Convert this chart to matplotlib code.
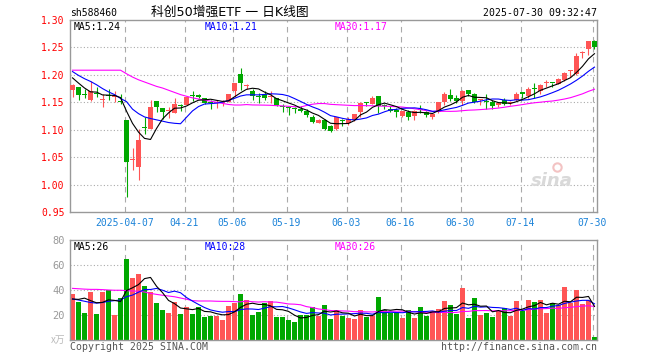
import numpy as np
import matplotlib
matplotlib.use('Agg')
import matplotlib.pyplot as plt

# ---------------- data ----------------
opens = [1.172, 1.178, 1.164, 1.154, 1.166, 1.155, 1.162, 1.159, 1.153, 1.118,
         1.044, 1.032, 1.105, 1.102, 1.152, 1.140, 1.135, 1.131, 1.144, 1.145,
         1.162, 1.163, 1.157, 1.150, 1.148, 1.149, 1.151, 1.171, 1.202, 1.180,
         1.171, 1.161, 1.166, 1.160, 1.157, 1.143, 1.140, 1.139, 1.138, 1.1335,
         1.124, 1.113, 1.118, 1.107, 1.102, 1.116, 1.113, 1.118, 1.132, 1.149,
         1.1475, 1.162, 1.145, 1.138, 1.1366, 1.1256, 1.132, 1.1256, 1.1366, 1.132,
         1.123, 1.132, 1.1506, 1.164, 1.158, 1.152, 1.173, 1.166, 1.1536, 1.1506,
         1.151, 1.145, 1.154, 1.148, 1.1536, 1.1695, 1.1616, 1.175, 1.1707, 1.185,
         1.186, 1.184, 1.191, 1.2065, 1.201, 1.2405, 1.2463, 1.261]
highs = [1.183, 1.178, 1.174, 1.188, 1.177, 1.165, 1.175, 1.171, 1.166, 1.118,
         1.066, 1.101, 1.124, 1.155, 1.152, 1.140, 1.142, 1.157, 1.146, 1.160,
         1.170, 1.166, 1.157, 1.154, 1.154, 1.155, 1.166, 1.186, 1.212, 1.184,
         1.175, 1.167, 1.170, 1.170, 1.157, 1.147, 1.141, 1.141, 1.143, 1.137,
         1.127, 1.119, 1.119, 1.108, 1.124, 1.1195, 1.123, 1.129, 1.150, 1.150,
         1.162, 1.162, 1.1475, 1.143, 1.1396, 1.134, 1.1366, 1.1366, 1.1457, 1.135,
         1.130, 1.150, 1.168, 1.175, 1.164, 1.172, 1.173, 1.167, 1.156, 1.166,
         1.155, 1.150, 1.158, 1.152, 1.168, 1.1695, 1.177, 1.186, 1.183, 1.190,
         1.186, 1.195, 1.206, 1.2085, 1.239, 1.243, 1.261, 1.264]
lows = [1.160, 1.155, 1.158, 1.152, 1.160, 1.141, 1.155, 1.150, 1.146, 0.978,
        1.026, 1.009, 1.093, 1.102, 1.132, 1.119, 1.122, 1.130, 1.134, 1.145,
        1.152, 1.157, 1.146, 1.138, 1.140, 1.143, 1.150, 1.160, 1.173, 1.174,
        1.154, 1.149, 1.154, 1.149, 1.143, 1.132, 1.126, 1.130, 1.132, 1.124,
        1.112, 1.112, 1.100, 1.096, 1.100, 1.106, 1.109, 1.115, 1.123, 1.144,
        1.146, 1.130, 1.137, 1.132, 1.123, 1.123, 1.118, 1.118, 1.130, 1.123,
        1.120, 1.130, 1.1445, 1.152, 1.149, 1.1457, 1.161, 1.149, 1.1445, 1.138,
        1.138, 1.141, 1.145, 1.145, 1.152, 1.157, 1.1585, 1.1585, 1.1646, 1.177,
        1.177, 1.183, 1.189, 1.196, 1.200, 1.2305, 1.2366, 1.2463]
closes = [1.182, 1.163, 1.163, 1.170, 1.165, 1.156, 1.161, 1.160, 1.151, 1.041,
          1.045, 1.081, 1.103, 1.141, 1.141, 1.132, 1.136, 1.146, 1.143, 1.159,
          1.161, 1.160, 1.149, 1.149, 1.149, 1.151, 1.165, 1.186, 1.185, 1.181,
          1.161, 1.159, 1.157, 1.161, 1.145, 1.142, 1.139, 1.138, 1.1335, 1.127,
          1.114, 1.118, 1.102, 1.098, 1.1225, 1.115, 1.1195, 1.129, 1.149, 1.148,
          1.1585, 1.143, 1.144, 1.1335, 1.1317, 1.1335, 1.124, 1.1335, 1.136, 1.126,
          1.1286, 1.150, 1.166, 1.156, 1.153, 1.171, 1.166, 1.150, 1.154, 1.150,
          1.144, 1.149, 1.1475, 1.149, 1.166, 1.1646, 1.1738, 1.174, 1.181, 1.186,
          1.185, 1.193, 1.203, 1.207, 1.234, 1.241, 1.261, 1.250]
volumes = [37.1, 30.1, 21.9, 38.7, 21.1, 38.7, 40.3, 19.7, 33.9, 65.1,
           49.9, 53.1, 43.5, 38.7, 29.9, 24.3, 21.9, 30.7, 21.1, 26.7,
           21.1, 26.7, 18.7, 19.5, 19.5, 16.3, 27.5, 29.9, 37.1, 32.3,
           20.3, 22.7, 29.9, 31.5, 18.1, 18.7, 16.3, 14.7, 20.3, 20.3,
           26.7, 19.5, 28.3, 17.1, 24.3, 19.5, 17.9, 17.1, 24.3, 18.7,
           19.5, 34.7, 24.3, 21.9, 21.9, 17.9, 24.3, 17.9, 26.7, 19.5,
           23.5, 25.1, 31.5, 28.3, 21.1, 41.9, 17.9, 33.9, 20.3, 21.9,
           18.7, 23.2, 25.9, 19.5, 31.5, 23.5, 32.3, 30.7, 32.3, 21.9,
           29.9, 28.3, 42.7, 29.9, 40.3, 29.1, 32.3, 2.7]

# moving-average values at the left edge (window reaches before the first candle)
ma5_head = [1.1945, 1.185, 1.176, 1.169]
ma10_head = [1.206, 1.199, 1.193, 1.188, 1.182, 1.175, 1.169, 1.164, 1.157]
ma30_head = [1.2085, 1.2085, 1.2085, 1.2085, 1.2085, 1.2085, 1.2085, 1.2085, 1.2085,
             1.202, 1.196, 1.191, 1.187, 1.183, 1.179, 1.176, 1.172, 1.168,
             1.164, 1.161, 1.158, 1.156, 1.154, 1.152, 1.150, 1.148, 1.146,
             1.145, 1.145]
vma5_head = [32.8, 32.5, 33.5, 31.5]
vma10_head = [32.8, 32.0, 31.0, 30.0, 29.5, 30.0, 31.0, 31.5, 32.0]
vma30_head = [41.3, 41.0, 40.7, 40.5, 40.5, 40.3, 40.0, 39.8, 39.8, 39.5,
              39.2, 39.0, 38.4, 37.3, 36.5, 35.8, 35.2, 34.6, 33.6, 32.6,
              31.5, 31.2, 31.2, 31.2, 31.0, 30.9, 30.9, 30.7, 30.5]

tick_idx = [9, 19, 27, 36, 46, 55, 65, 75, 87]
tick_labels = ['2025-04-07', '04-21', '05-06', '05-19', '06-03', '06-16',
               '06-30', '07-14', '07-30']
price_ticks = [0.95, 1.00, 1.05, 1.10, 1.15, 1.20, 1.25, 1.30]
vol_ticks = [20, 40, 60, 80]

title = '科创50增强ETF 一 日K线图'
code = 'sh588460'
stamp = '2025-07-30 09:32:47'

# ---------------- helpers ----------------
def moving_avg(values, n, head):
    v = np.asarray(values, float)
    out = np.empty(len(v))
    for i in range(len(v)):
        out[i] = head[i] if i < n - 1 else v[i - n + 1:i + 1].mean()
    return out

W, H = 660, 360
plt.rcParams['font.family'] = ['DejaVu Sans Mono', 'Noto Sans CJK SC']
fig = plt.figure(figsize=(W / 100, H / 100), dpi=100)
fig.patch.set_facecolor('white')

def frac_box(l, t, r, b):
    return [l / W, 1 - b / H, (r - l) / W, (b - t) / H]

def ft(x, y, s, **kw):
    fig.text(x / W, 1 - y / H, s, **kw)

RED = '#ff5555'
GREEN = '#00a800'
GRID = '#aaaaaa'
SPINE = '#999999'
DATEC = '#1a82d8'

x = np.arange(len(closes))
o = np.asarray(opens); c = np.asarray(closes)
h = np.asarray(highs); l = np.asarray(lows)
up = c >= o
cols = np.where(up, RED, GREEN)
xlim = (-0.42, len(closes) - 1 + 0.42)
grid_x = np.asarray(tick_idx) - 0.33

# ---------------- price panel ----------------
ax = fig.add_axes(frac_box(70, 20, 597, 212))
ax.set_xlim(*xlim)
ax.set_ylim(0.95, 1.30)
for yv in price_ticks[1:-1]:
    ax.axhline(yv, color=GRID, lw=0.8, ls=(0, (1, 2)), zorder=0)
for gx in grid_x:
    ax.axvline(gx, color=GRID, lw=0.8, ls=(0, (5, 4)), zorder=0)
ax.vlines(x, l, h, colors=cols, lw=0.8, zorder=2)
body = np.maximum(np.abs(c - o), 0.0018)
ax.bar(x, body, bottom=np.minimum(o, c), width=0.8, color=cols, lw=0, zorder=3)
ma5 = moving_avg(closes, 5, ma5_head)
ma10 = moving_avg(closes, 10, ma10_head)
ma30 = moving_avg(closes, 30, ma30_head)
ax.plot(x, ma30, color='#ff00ff', lw=0.8, zorder=4)
ax.plot(x, ma10, color='#0000ff', lw=0.8, zorder=4)
ax.plot(x, ma5, color='black', lw=0.8, zorder=4)
ax.set_yticks(price_ticks)
ax.set_yticklabels(['%.2f' % t for t in price_ticks])
ax.tick_params(axis='y', length=0, pad=4, labelcolor='red', labelsize=7)
ax.set_xticks(grid_x)
ax.set_xticklabels(tick_labels)
ax.tick_params(axis='x', length=0, pad=4, labelcolor=DATEC, labelsize=7)
for s in ax.spines.values():
    s.set_color(SPINE); s.set_linewidth(1.0)
ax.text(0.915, 0.16, 'sina', transform=ax.transAxes, fontsize=13, color='#d9d9d9',
        fontstyle='italic', fontweight='bold', family='DejaVu Sans',
        ha='center', va='center', zorder=1)
ax.plot([0.925], [0.235], transform=ax.transAxes, marker='o', ms=6,
        mfc='none', mec='#f3c3c3', mew=1.5, zorder=1)

# ---------------- volume panel ----------------
av = fig.add_axes(frac_box(70, 240, 597, 340))
av.set_xlim(*xlim)
av.set_ylim(0, 80)
for yv in vol_ticks[:-1]:
    av.axhline(yv, color=GRID, lw=0.8, ls=(0, (1, 2)), zorder=0)
for gx in grid_x:
    av.axvline(gx, color=GRID, lw=0.8, ls=(0, (5, 4)), zorder=0)
av.bar(x, volumes, width=0.8, color=cols, lw=0, zorder=2)
vma5 = moving_avg(volumes, 5, vma5_head)
vma10 = moving_avg(volumes, 10, vma10_head)
vma30 = moving_avg(volumes, 30, vma30_head)
av.plot(x, vma30, color='#ff00ff', lw=0.8, zorder=4)
av.plot(x, vma10, color='#0000ff', lw=0.8, zorder=4)
av.plot(x, vma5, color='black', lw=0.8, zorder=4)
av.set_yticks(vol_ticks)
av.set_yticklabels([str(t) for t in vol_ticks])
av.tick_params(axis='y', length=0, pad=4, labelcolor='#999999', labelsize=7.5)
av.set_xticks([])
for s in av.spines.values():
    s.set_color(SPINE); s.set_linewidth(1.0)

# ---------------- texts ----------------
ft(70, 13.5, code, fontsize=7, ha='left', va='center', color='black')
ft(230, 12.5, title, fontsize=9.2, ha='center', va='center', color='black',
   family=['DejaVu Sans', 'Noto Sans CJK SC'])
ft(597, 13, stamp, fontsize=7.1, ha='right', va='center', color='black')

ft(74, 26.5, 'MA5:%.2f' % ma5[-1], fontsize=7, ha='left', va='center', color='black')
ft(205, 26.5, 'MA10:%.2f' % ma10[-1], fontsize=7, ha='left', va='center', color='#0000ff')
ft(334.5, 26.5, 'MA30:%.2f' % ma30[-1], fontsize=7, ha='left', va='center', color='#ff00ff')

ft(74, 246.5, 'MA5:%d' % int(vma5[-1]), fontsize=7, ha='left', va='center', color='black')
ft(205, 246.5, 'MA10:%d' % int(vma10[-1]), fontsize=7, ha='left', va='center', color='#0000ff')
ft(334.5, 246.5, 'MA30:%d' % int(vma30[-1]), fontsize=7, ha='left', va='center', color='#ff00ff')

ft(65, 339.5, 'x万', fontsize=7, ha='right', va='center', color='#bbbbbb',
   family=['Noto Sans CJK SC', 'DejaVu Sans'])
ft(70, 346.5, 'Copyright 2025 SINA.COM', fontsize=7.1, ha='left', va='center', color='#555555')
ft(597, 346.5, 'http://finance.sina.com.cn', fontsize=7.1, ha='right', va='center', color='#555555')

fig.savefig('out.png', dpi=100)
